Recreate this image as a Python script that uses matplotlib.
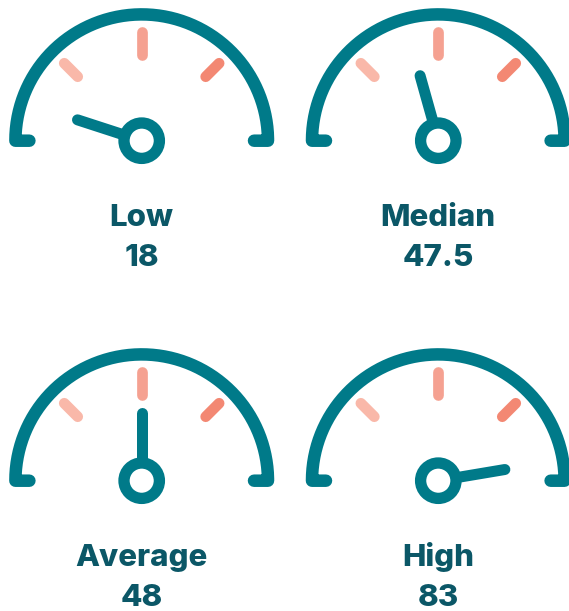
import numpy as np
import matplotlib
matplotlib.use("Agg")
import matplotlib.pyplot as plt
from matplotlib.patches import Circle

# ---- data ----
labels = ["Low", "Median", "Average", "High"]
values = [18, 47.5, 48, 83]
value_texts = ["18", "47.5", "48", "83"]
needle_fraction = [0.10, 0.413, 0.50, 0.947]   # needle position along the dial (0 = left, 1 = right)

# ---- style ----
TEAL = "#007A89"
TEXT = "#0B5767"
TICK_COLORS = ["#F9B8A9", "#F5A191", "#F38873"]
PX = 0.72  # points per pixel at dpi 100

W, H = 569, 611
fig = plt.figure(figsize=(W / 100, H / 100), dpi=100)
ax = fig.add_axes([0, 0, 1, 1])
ax.set_xlim(0, W)
ax.set_ylim(H, 0)
ax.set_aspect("equal")
ax.axis("off")

centers = [(141.7, 140.7), (438.3, 140.7), (141.7, 480.7), (438.3, 480.7)]
R = 126.3
text_offsets = (85.5, 125.3)
tick_spans = [(90.5, 109.5), (86.0, 108.5), (90.5, 109.5)]

for i, (cx, cy) in enumerate(centers):
    t = np.linspace(np.pi, 0, 200)
    xs = np.concatenate([[cx - R + 14], cx + R * np.cos(t), [cx + R - 14]])
    ys = np.concatenate([[cy], cy - R * np.sin(t), [cy]])
    ax.plot(xs, ys, color=TEAL, lw=12.5 * PX, solid_capstyle="round",
            solid_joinstyle="round", zorder=2)
    for ang, col, (r0, r1) in zip([135, 90, 45], TICK_COLORS, tick_spans):
        a = np.radians(ang)
        ax.plot([cx + r0 * np.cos(a), cx + r1 * np.cos(a)],
                [cy - r0 * np.sin(a), cy - r1 * np.sin(a)],
                color=col, lw=10.7 * PX, solid_capstyle="round", zorder=2)
    a = np.radians(180 * (1 - needle_fraction[i]))
    L = 67.5
    ax.plot([cx, cx + L * np.cos(a)], [cy, cy - L * np.sin(a)],
            color=TEAL, lw=11 * PX, solid_capstyle="round", zorder=3)
    ax.add_patch(Circle((cx, cy), 17.7, facecolor="white", edgecolor=TEAL,
                        lw=11.3 * PX, zorder=4))
    ax.text(cx, cy + text_offsets[0], labels[i], ha="center", va="baseline",
            fontsize=22.5, fontweight=800, family="Inter", color=TEXT)
    ax.text(cx, cy + text_offsets[1], value_texts[i], ha="center", va="baseline",
            fontsize=22.5, fontweight=800, family="Inter", color=TEXT)

fig.savefig("out.png", dpi=100, facecolor="white")
